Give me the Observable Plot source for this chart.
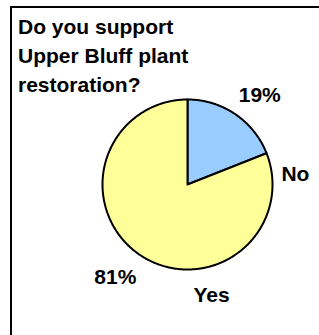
<!DOCTYPE html>
<html>
<head>
<meta charset="utf-8">
<script src="https://cdn.jsdelivr.net/npm/d3@7"></script>
<script src="https://cdn.jsdelivr.net/npm/@observablehq/plot@0.6"></script>
<style>
  html, body { margin: 0; padding: 0; background: #fff; overflow: hidden; }
  #wrap { position: relative; width: 319px; height: 335px; overflow: hidden; }
  #box { position: absolute; left: 10px; top: 6px; width: 400px; height: 400px;
         border-top: 2px solid #000; border-left: 2px solid #000; }
  #title { position: absolute; left: 18px; top: 12px; font-family: "Liberation Sans", Arial, sans-serif;
           font-weight: bold; font-size: 21px; line-height: 29px; color: #000; white-space: nowrap; }
  #chart { position: absolute; left: 0; top: 0; }
</style>
</head>
<body>
<div id="wrap">
  <div id="box"></div>
  <div id="chart"></div>
  <div id="title"></div>
</div>
<script>
// ---- data ----
const categories = ["No", "Yes"];
const values = [19, 81];
const sliceColors = ["#99ccff", "#ffff99"];
const titleLines = ["Do you support", "Upper Bluff plant", "restoration?"];

// ---- layout (label placement, in degrees clockwise from 12 o'clock / radius in pie units) ----
const pctLabelAngle = [39, 218];
const pctLabelRadius = [1.35, 1.38];
const nameLabelAngle = [84.7, 167.8];
const nameLabelRadius = [1.275, 1.336];

document.getElementById("title").innerHTML = titleLines.join("<br>");

const pie = d3.pie().sort(null).value(d => d.value);
const arcs = pie(categories.map((c, i) => ({name: c, value: values[i]})));

const pts = [];
arcs.forEach(a => {
  const n = Math.max(2, Math.ceil((a.endAngle - a.startAngle) / 0.01));
  pts.push({name: a.data.name, x: 0, y: 0});
  for (let k = 0; k <= n; k++) {
    const t = a.startAngle + (a.endAngle - a.startAngle) * k / n;
    pts.push({name: a.data.name, x: Math.sin(t), y: Math.cos(t)});
  }
  pts.push({name: a.data.name, x: 0, y: 0});
});

const rad = d => d * Math.PI / 180;
const labels = [];
categories.forEach((c, i) => {
  labels.push({text: values[i] + "%", x: pctLabelRadius[i] * Math.sin(rad(pctLabelAngle[i])), y: pctLabelRadius[i] * Math.cos(rad(pctLabelAngle[i]))});
  labels.push({text: c, x: nameLabelRadius[i] * Math.sin(rad(nameLabelAngle[i])), y: nameLabelRadius[i] * Math.cos(rad(nameLabelAngle[i]))});
});

const chart = Plot.plot({
  width: 319,
  height: 335,
  marginLeft: 102,
  marginRight: 47,
  marginTop: 99,
  marginBottom: 66,
  style: {background: "transparent", fontFamily: "'Liberation Sans', Arial, sans-serif"},
  x: {domain: [-1, 1], axis: null},
  y: {domain: [-1, 1], axis: null},
  color: {domain: categories, range: sliceColors},
  marks: [
    Plot.line(pts, {x: "x", y: "y", z: "name", fill: "name", stroke: "#000", strokeWidth: 2, strokeLinejoin: "round", curve: "linear"}),
    Plot.text(labels, {x: "x", y: "y", text: "text", fontSize: 21, fontWeight: "bold", fill: "#000"})
  ]
});
document.getElementById("chart").appendChild(chart);
</script>
</body>
</html>
